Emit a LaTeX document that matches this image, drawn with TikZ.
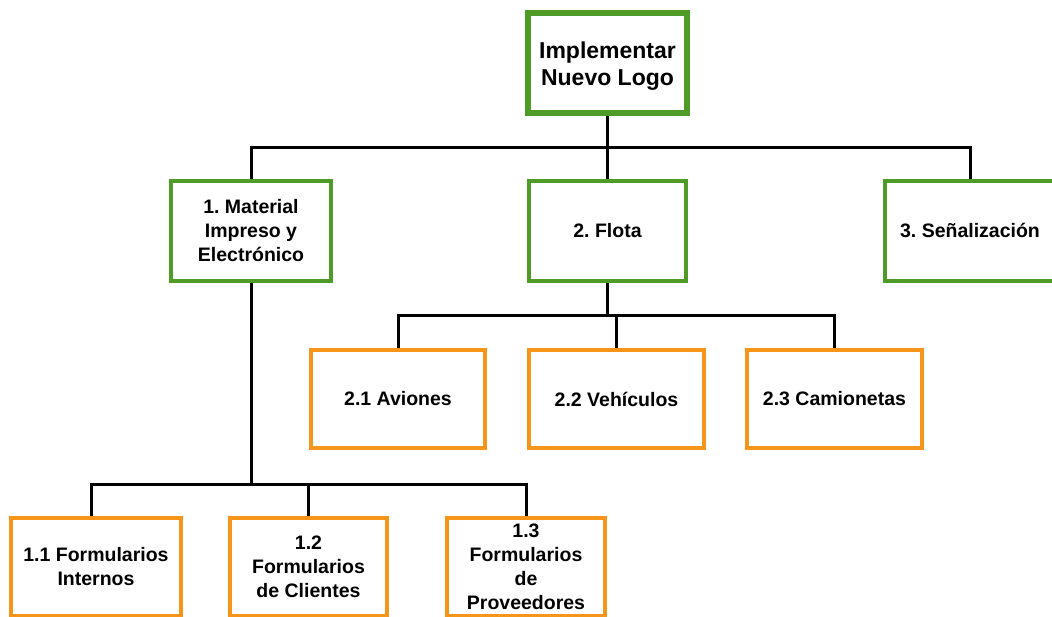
\documentclass[tikz,border=0pt]{standalone}
\usepackage{fontspec}
\setmainfont{Liberation Sans}
\usetikzlibrary{calc}
\definecolor{boxgreen}{HTML}{4E9B27}
\definecolor{boxorange}{HTML}{F6951A}
\frenchspacing
\begin{document}
\begin{tikzpicture}[x=1pt,y=-1pt,
  box/.style={draw, rectangle, fill=white, align=center, inner sep=0pt,
    font=\bfseries\fontsize{19.5}{24}\selectfont},
  rootbox/.style={box, draw=boxgreen, line width=6pt, minimum width=159pt,
    minimum height=100pt, font=\bfseries\fontsize{23}{27}\selectfont},
  areabox/.style={box, draw=boxgreen, line width=4pt, minimum height=100pt},
  taskbox/.style={box, draw=boxorange, line width=4pt, minimum height=98pt},
  link/.style={draw=black, line width=3pt}]
\useasboundingbox (0,0) rectangle (1052,616);
\clip (0,0) rectangle (1052,616);

% root
\node[rootbox] (root) at (607.5,63) {\rule{0pt}{23pt}Implementar\\Nuevo Logo};

% first level
\node[areabox, minimum width=160pt] (m1) at (251,231) {1. Material\\Impreso y\\Electrónico};
\node[areabox, minimum width=157pt] (m2) at (607.5,230.5) {2. Flota};
\node[areabox, minimum width=170pt] (m3) at (970,230.5) {3. Señalización};

% fleet tasks
\node[taskbox, minimum width=174pt] (f1) at (398,399) {2.1 Aviones};
\node[taskbox, minimum width=175pt] (f2) at (616.5,399) {2.2 Vehículos};
\node[taskbox, minimum width=175pt] (f3) at (834.5,399) {2.3 Camionetas};

% printed material tasks
\node[taskbox, minimum width=170pt] (p1) at (96,567) {1.1 Formularios\\Internos};
\node[taskbox, minimum width=157pt] (p2) at (308.5,567) {1.2\\Formularios\\de Clientes};
\node[taskbox, minimum width=158pt] (p3) at (526,567) {1.3\\Formularios\\de\\Proveedores};

% connectors root -> first level
\coordinate (j0) at ($(root.south)+(0,31)$);
\draw[link] (root.south) -- (j0);
\draw[link] (j0) -| (m1.north);
\draw[link] (j0) -| (m3.north);
\draw[link] (j0) -- (m2.north);

% connectors fleet
\coordinate (j2) at ($(m2.south)+(0,33)$);
\draw[link] (m2.south) -- (j2);
\draw[link] (j2) -| (f1.north);
\draw[link] (j2) -| (f3.north);
\draw[link] (j2) -| (f2.north);

% connectors printed material
\coordinate (j1) at ($(m1.south)+(0,201)$);
\draw[link] (m1.south) -- (j1);
\draw[link] (j1) -| ([xshift=-5pt]p1.north);
\draw[link] (j1) -| (p3.north);
\draw[link] (j1) -| (p2.north);
\end{tikzpicture}
\end{document}
